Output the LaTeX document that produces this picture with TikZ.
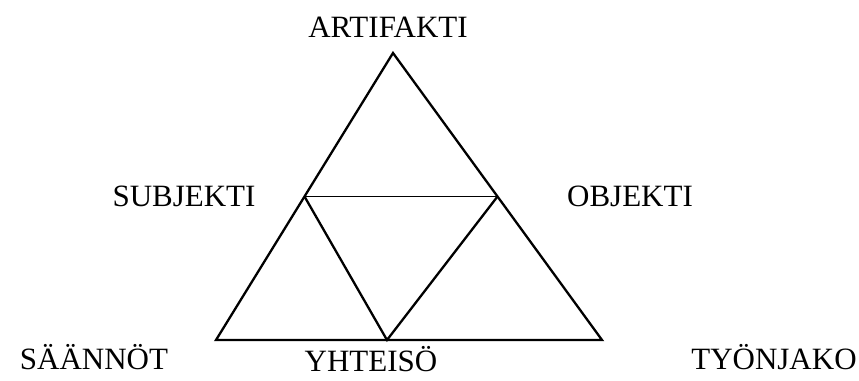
\documentclass[tikz,border=0pt]{standalone}
\usepackage{fontspec}
\setmainfont{Liberation Serif}
\begin{document}
\begin{tikzpicture}[x=1pt,y=-1pt,
  lbl/.style={font=\fontsize{31}{31}\selectfont, anchor=base, inner sep=0pt},
  edge/.style={line width=2.3pt, line join=miter, line cap=butt}]
\useasboundingbox (0,0) rectangle (859,380);
% vertices
\coordinate (A) at (393,53);
\coordinate (BL) at (216,340);
\coordinate (BR) at (602,340);
\coordinate (ML) at (304.5,196.5);
\coordinate (MR) at (497.5,196.5);
\coordinate (MB) at (387,340);
\draw[edge] (A) -- (BR) -- (BL) -- cycle;
\draw[line width=1.6pt] (ML) -- (MR);
\draw[edge] (ML) -- (MB) -- (MR);
% labels
\node[lbl] (art) at (388,37) {ARTIFAKTI};
\node[lbl] (sub) at (184,206) {SUBJEKTI};
\node[lbl] (obj) at (630,206) {OBJEKTI};
\node[lbl] (saa) at (94,369) {SÄÄNNÖT};
\node[lbl] (yht) at (371,371) {YHTEISÖ};
\node[lbl] (tyo) at (774,369) {TYÖNJAKO};
\end{tikzpicture}
\end{document}
